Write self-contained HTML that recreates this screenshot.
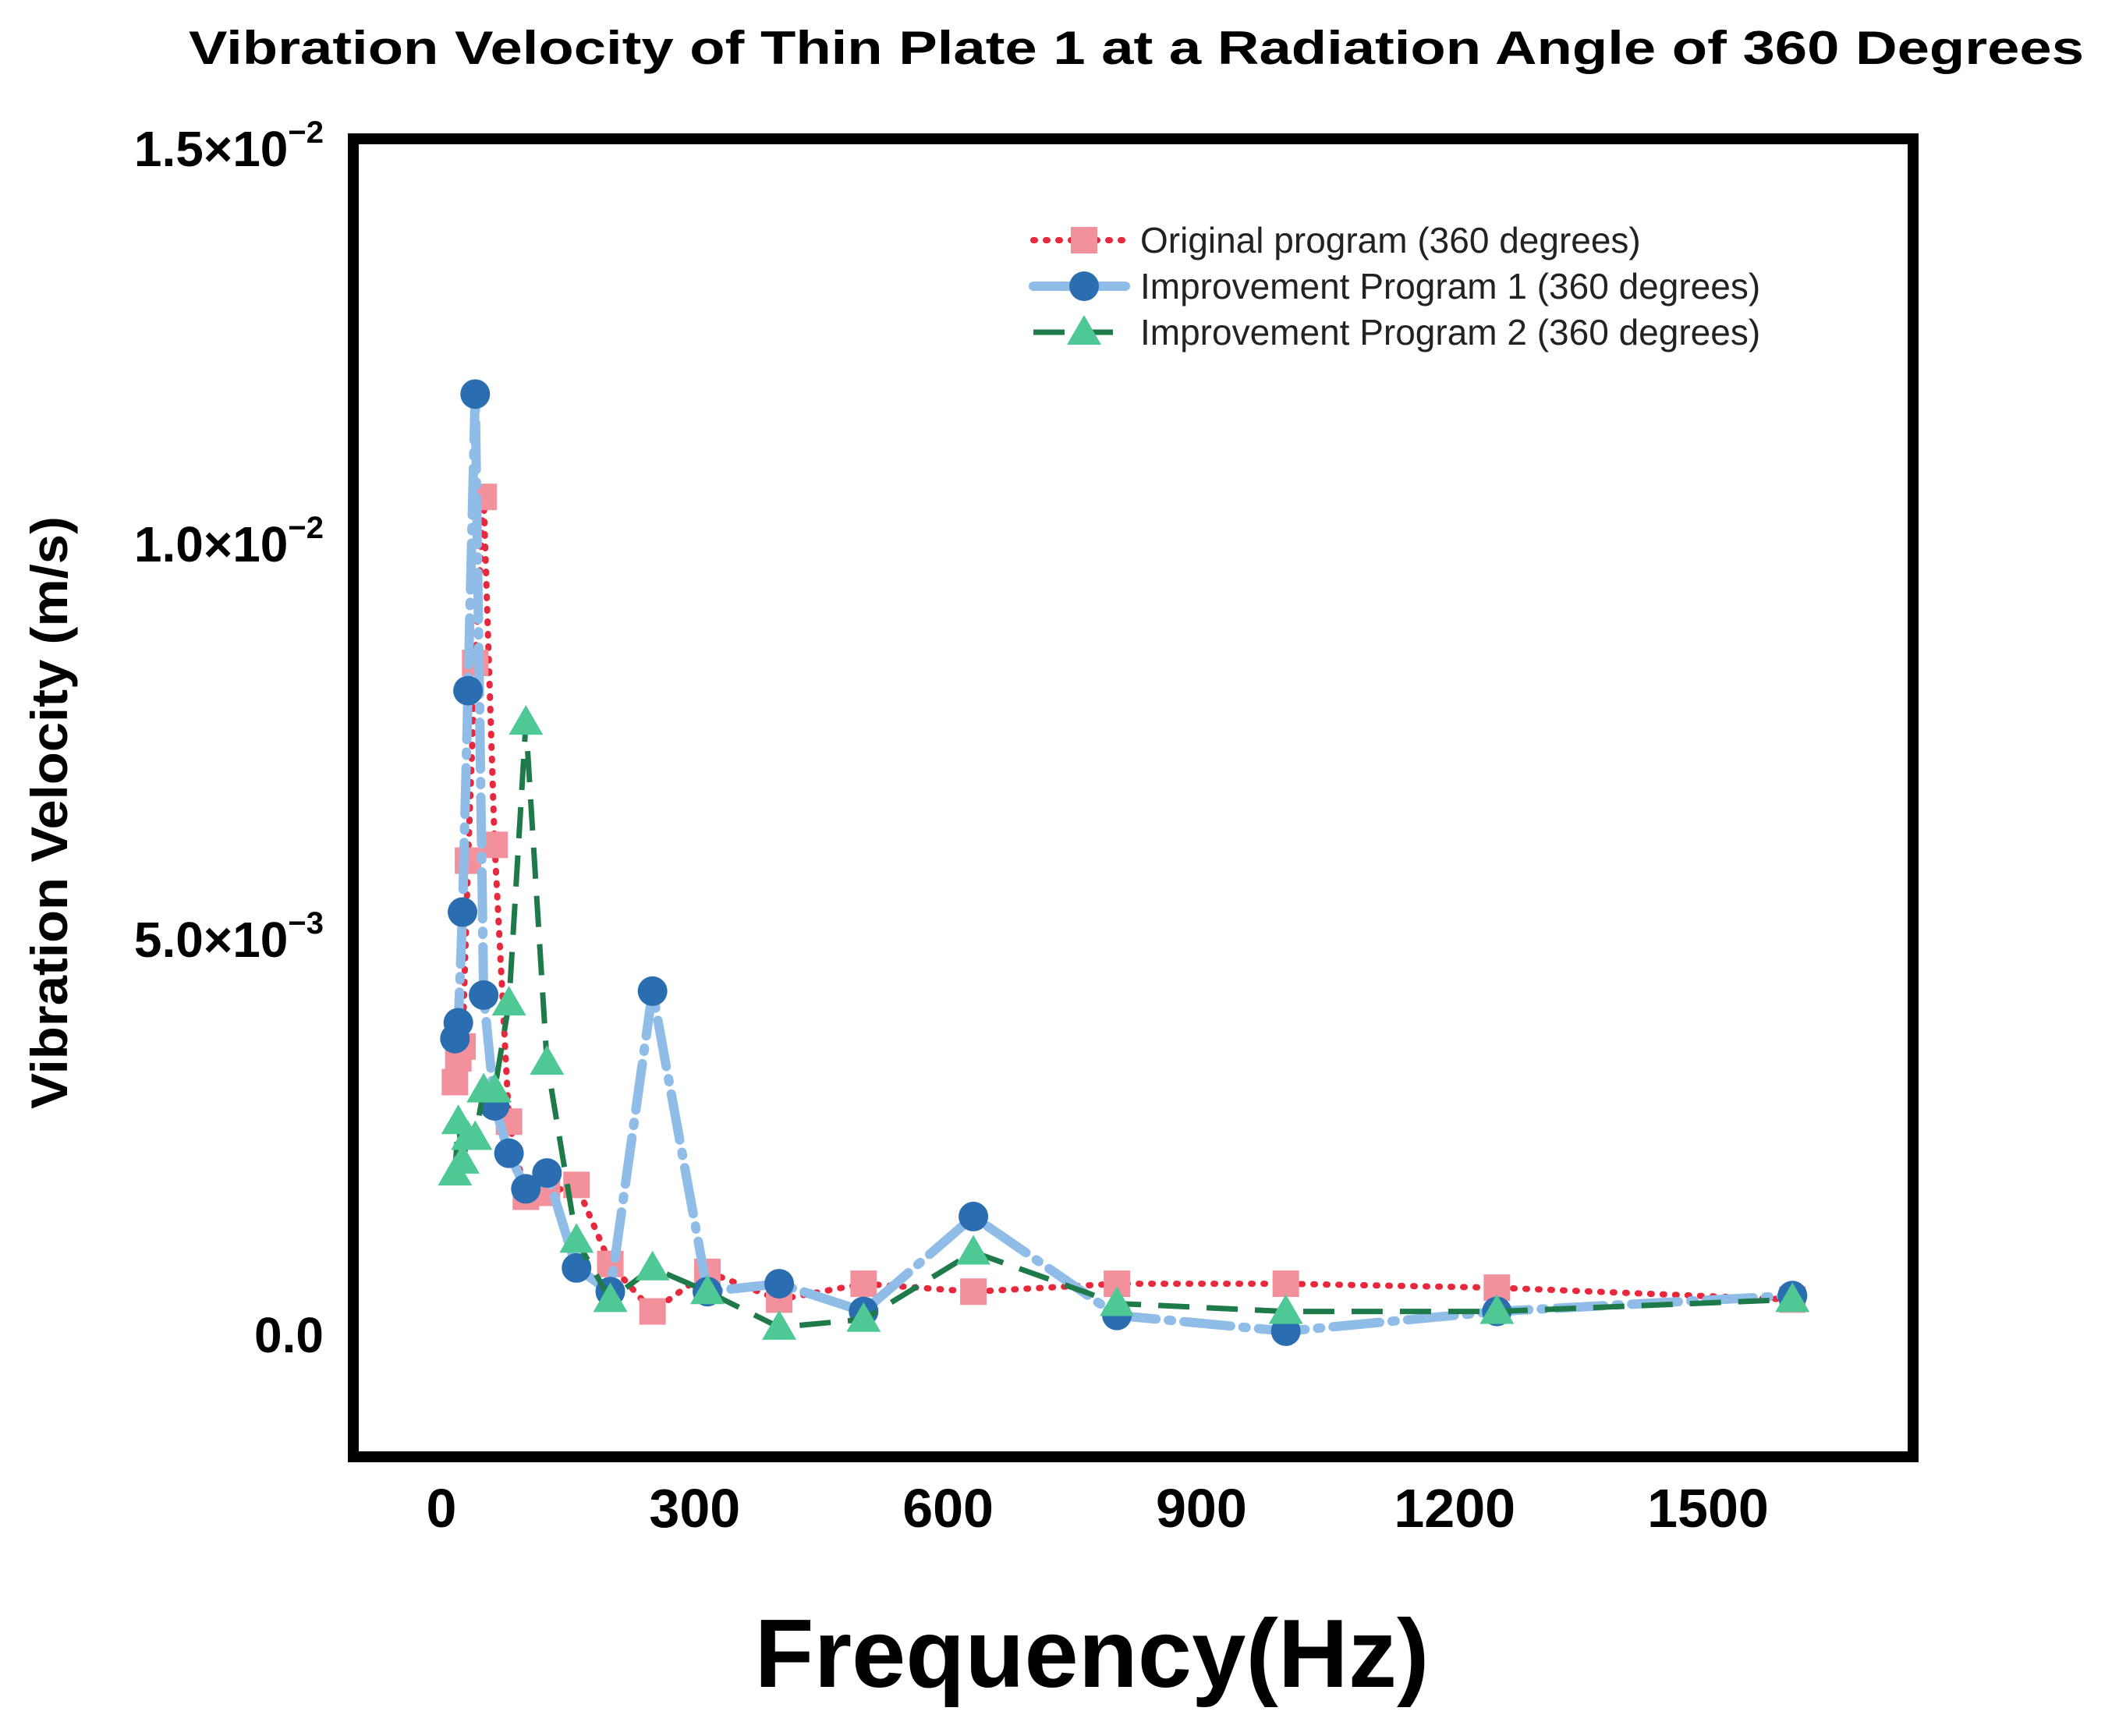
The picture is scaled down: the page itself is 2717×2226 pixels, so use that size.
<!DOCTYPE html>
<html><head><meta charset="utf-8"><style>html,body{margin:0;padding:0;background:#fff}svg{display:block}</style></head>
<body>
<svg id="chart" width="2717" height="2226" viewBox="0 0 2717 2226" xmlns="http://www.w3.org/2000/svg" font-family="Liberation Sans, sans-serif">
<text x="1457" y="82" font-size="60" font-weight="bold" text-anchor="middle" textLength="2430" lengthAdjust="spacingAndGlyphs">Vibration Velocity of Thin Plate 1 at a Radiation Angle of 360 Degrees</text>
<rect x="453" y="178" width="2000" height="1690" fill="none" stroke="#000" stroke-width="14"/>
<g id="yticks"></g><g id="xticks"></g>
<text transform="translate(86,1042) rotate(-90)" font-size="66" font-weight="bold" text-anchor="middle" textLength="760" lengthAdjust="spacingAndGlyphs">Vibration Velocity (m/s)</text>
<text x="1400" y="2163" font-size="124" font-weight="bold" text-anchor="middle" textLength="865" lengthAdjust="spacingAndGlyphs">Frequency(Hz)</text>
<g id="series"></g>
<g id="legend"></g>
</svg>
<script>
const freqs=[16,20,25,31.5,40,50,63,80,100,125,160,200,250,315,400,500,630,800,1000,1250,1600];
const original=[3.2e-3,3.5e-3,3.65e-3,6e-3,8.5e-3,1.06e-2,6.2e-3,2.7e-3,1.75e-3,1.8e-3,1.9e-3,0.9e-3,0.3e-3,0.8e-3,0.45e-3,0.65e-3,0.55e-3,0.65e-3,0.65e-3,0.6e-3,0.45e-3];
const improve1=[3.75e-3,3.95e-3,5.35e-3,8.15e-3,1.19e-2,4.3e-3,2.9e-3,2.3e-3,1.85e-3,2.05e-3,0.85e-3,0.55e-3,4.35e-3,0.55e-3,0.65e-3,0.3e-3,1.5e-3,0.25e-3,0.05e-3,0.3e-3,0.5e-3];
const improve2=[2.05e-3,2.7e-3,2.2e-3,2.5e-3,2.5e-3,3.1e-3,3.1e-3,4.2e-3,7.75e-3,3.45e-3,1.2e-3,0.45e-3,0.85e-3,0.55e-3,0.1e-3,0.2e-3,1.05e-3,0.4e-3,0.3e-3,0.3e-3,0.45e-3];
const yTickVals=[0,0.005,0.01,0.015];
const yTickLabels=["0.0","5.0×10","1.0×10","1.5×10"];
const yTickExp=["","−3","−2","−2"];
const xTickVals=[0,300,600,900,1200,1500];
const legendLabels=["Original program (360 degrees)","Improvement Program 1 (360 degrees)","Improvement Program 2 (360 degrees)"];

const NS="http://www.w3.org/2000/svg";
const X=v=>566+v*(2190-566)/1500;
const Y=v=>1712-v*(507/0.005);
function mk(tag,attrs,parent){const e=document.createElementNS(NS,tag);for(const k in attrs)e.setAttribute(k,attrs[k]);parent.appendChild(e);return e;}

const yt=document.getElementById('yticks');
yTickVals.forEach((v,i)=>{
  const t=mk('text',{x:415,y:Y(v)+22,'font-size':64,'font-weight':'bold','text-anchor':'end'},yt);
  
  
  t.textContent=yTickLabels[i];
  if(yTickExp[i]){const s=mk('tspan',{dy:-30,'font-size':40},t);s.textContent=yTickExp[i];}
});
const xt=document.getElementById('xticks');
xTickVals.forEach(v=>{
  const t=mk('text',{x:X(v),y:1958,'font-size':70,'font-weight':'bold','text-anchor':'middle'},xt);
  
  
  t.textContent=String(v);
});

const styles=[
 {data:original,line:'#e8283c',w:8,dash:'2 14',cap:'round',marker:'square',mc:'#f2919c'},
 {data:improve1,line:'#8fbde8',w:12,dash:'60 16 4 16',cap:'round',marker:'circle',mc:'#2a6db0'},
 {data:improve2,line:'#1f7a4a',w:7,dash:'40 22',cap:'butt',marker:'tri',mc:'#4ec995'}
];
const sg=document.getElementById('series');
function marker(type,x,y,c,parent){
  let e;
  if(type==='square')e=mk('rect',{x:x-17,y:y-17,width:34,height:34,fill:c},parent);
  else if(type==='circle')e=mk('circle',{cx:x,cy:y,r:19,fill:c},parent);
  else e=mk('polygon',{points:`${x},${y-22} ${x-22},${y+16} ${x+22},${y+16}`,fill:c},parent);
  return e;
}
const names=['original','improvement-1','improvement-2'];
styles.forEach((s,si)=>{
  const g=mk('g',{},sg);
  
  
  const pts=freqs.map((f,i)=>X(f)+','+Y(s.data[i])).join(' ');
  const pl=mk('polyline',{points:pts,fill:'none',stroke:s.line,'stroke-width':s.w,'stroke-dasharray':s.dash,'stroke-linecap':s.cap,'stroke-linejoin':'round'},g);
  
  
  freqs.forEach((f,i)=>{
    const m=marker(s.marker,X(f),Y(s.data[i]),s.mc,g);
    
    
  });
});

const lg=document.getElementById('legend');
const ly=[308,367,426];
styles.forEach((s,i)=>{
  const g=mk('g',{},lg);
  
  
  mk('line',{x1:1325,y1:ly[i],x2:1443,y2:ly[i],stroke:s.line,'stroke-width':s.w,'stroke-dasharray':i===1?'none':s.dash,'stroke-linecap':s.cap},g);
  marker(s.marker,1390,ly[i],s.mc,g);
  const t=mk('text',{x:1462,y:ly[i]+16,'font-size':46,fill:'#222'},g);
  t.textContent=legendLabels[i];
});
</script>
</body></html>
